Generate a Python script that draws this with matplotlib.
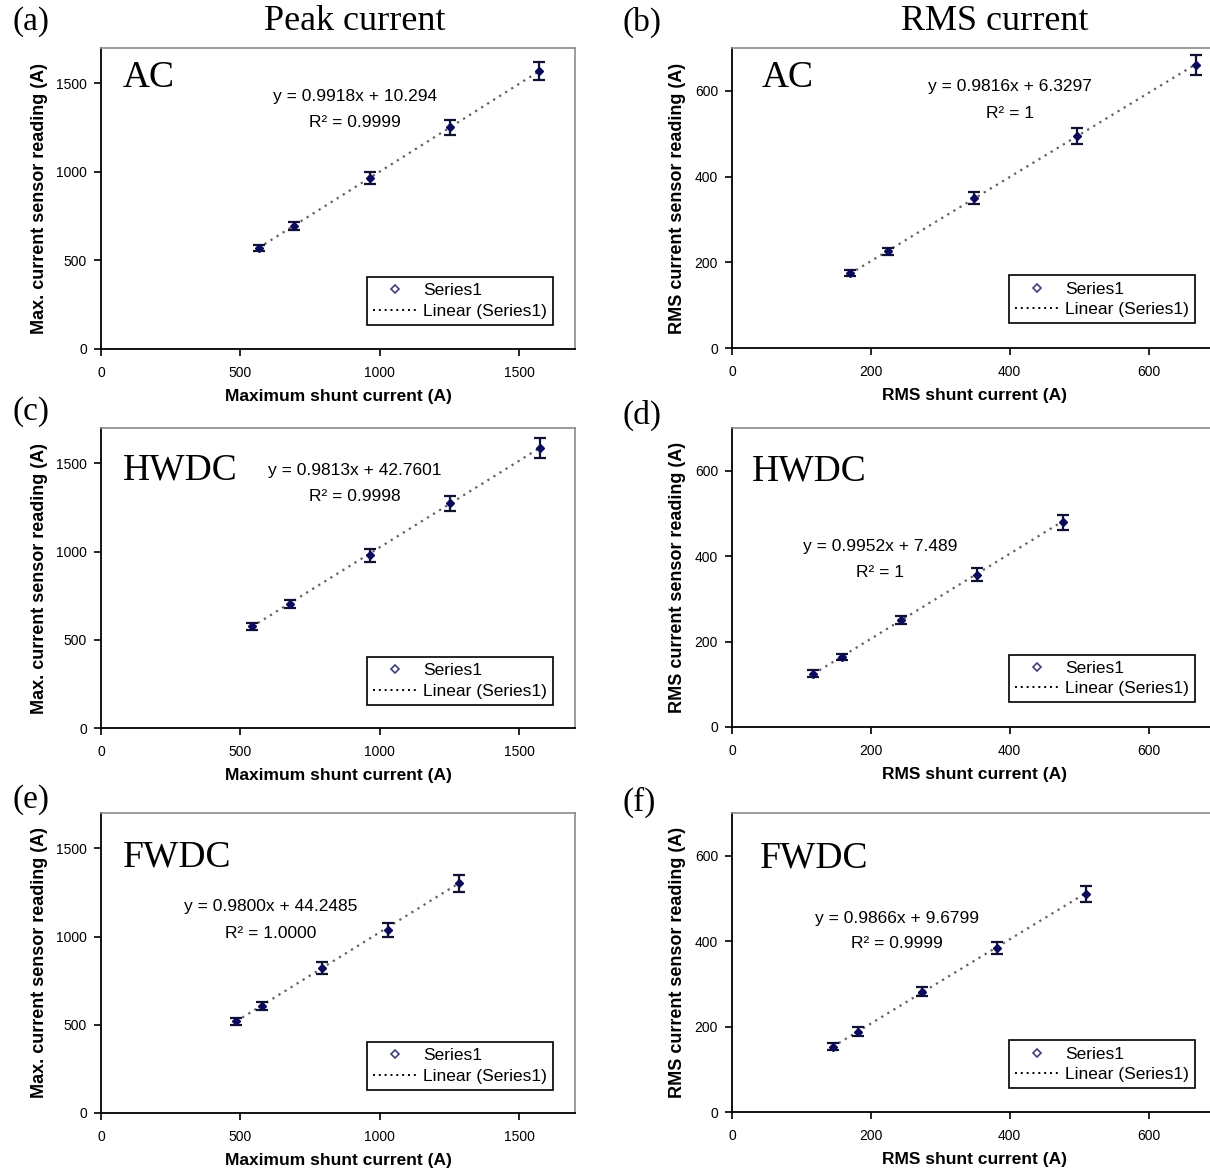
import numpy as np
import matplotlib
matplotlib.use("Agg")
import matplotlib.pyplot as plt
from matplotlib.lines import Line2D

plt.rcParams['font.family'] = ['Liberation Sans', 'DejaVu Sans']

# panel data (shunt current, sensor reading, error)
ac_pk_x = [565, 691, 966, 1251, 1572]
ac_pk_y = [570, 694, 964, 1251, 1569]
ac_pk_e = [17, 22, 33, 44, 51]

ac_rms_x = [170, 225, 349, 497, 669]
ac_rms_y = [174, 226, 349, 495, 661]
ac_rms_e = [7, 8, 14, 18, 23]

hw_pk_x = [541, 679, 963, 1251, 1575]
hw_pk_y = [577, 702, 978, 1273, 1589]
hw_pk_e = [20, 24, 36, 44, 57]

hw_rms_x = [117, 158, 244, 353, 477]
hw_rms_y = [125, 164, 250, 357, 479]
hw_rms_e = [8, 8, 10, 15, 18]

fw_pk_x = [485, 578, 793, 1030, 1285]
fw_pk_y = [519, 604, 821, 1038, 1302]
fw_pk_e = [20, 23, 35, 40, 49]

fw_rms_x = [145, 182, 274, 382, 510]
fw_rms_y = [153, 188, 282, 384, 510]
fw_rms_e = [8, 10, 10, 13, 19]

# trend line coefficients as printed on the chart
fits = [(0.9918, 10.294), (0.9816, 6.3297), (0.9813, 42.7601),
        (0.9952, 7.489), (0.9800, 44.2485), (0.9866, 9.6799)]
eq_text = ["y = 0.9918x + 10.294", "y = 0.9816x + 6.3297", "y = 0.9813x + 42.7601",
           "y = 0.9952x + 7.489", "y = 0.9800x + 44.2485", "y = 0.9866x + 9.6799"]
r2_text = ["R² = 0.9999", "R² = 1", "R² = 0.9998", "R² = 1", "R² = 1.0000", "R² = 0.9999"]
kinds = ["AC", "AC", "HWDC", "HWDC", "FWDC", "FWDC"]
letters = ["(a)", "(b)", "(c)", "(d)", "(e)", "(f)"]

data = [(ac_pk_x, ac_pk_y, ac_pk_e), (ac_rms_x, ac_rms_y, ac_rms_e),
        (hw_pk_x, hw_pk_y, hw_pk_e), (hw_rms_x, hw_rms_y, hw_rms_e),
        (fw_pk_x, fw_pk_y, fw_pk_e), (fw_rms_x, fw_rms_y, fw_rms_e)]

W, H = 1210, 1168
fig = plt.figure(figsize=(W / 100, H / 100), dpi=100)

def px_axes(l, r, t, b):
    return fig.add_axes([l / W, 1 - b / H, (r - l) / W, (b - t) / H])

boxes = [(101, 575, 48, 349), (732, 1218, 48, 348),
         (101, 575, 428, 728), (732, 1218, 428, 727),
         (101, 575, 813, 1113), (732, 1218, 813, 1112)]

# text positions in axes fraction
eq_pos = [(0.536, 0.84, 0.754), (0.572, 0.87, 0.783), (0.536, 0.86, 0.773),
          (0.305, 0.603, 0.517), (0.357, 0.69, 0.60), (0.34, 0.647, 0.563)]
kind_pos = [(0.046, 0.90), (0.06, 0.90), (0.046, 0.86), (0.041, 0.857),
            (0.046, 0.853), (0.058, 0.85)]
leg_pos = [(0.954, 0.08), (0.953, 0.083), (0.954, 0.077), (0.953, 0.083),
           (0.954, 0.077), (0.953, 0.08)]
letter_px = [(12, 22), (622, 22), (12, 412), (622, 415), (12, 800), (622, 802)]

navy = '#0a0a5a'

for i in range(6):
    ax = px_axes(*boxes[i])
    x, y, e = data[i]
    peak = (i % 2 == 0)
    m, c = fits[i]
    xs = np.array([x[0], x[-1]])
    ax.plot(xs, m * xs + c, linestyle=(0, (1, 2.2)), color='#606060', lw=1.6, zorder=2)
    ax.errorbar(x, y, yerr=e, fmt='D', color=navy, ms=4.5, mec=navy, mfc=navy,
                ecolor='#111133', elinewidth=1.6, capsize=4, capthick=1.6, zorder=3)
    if peak:
        ax.set_xlim(0, 1700)
        ax.set_ylim(0, 1700)
        ax.set_xticks([0, 500, 1000, 1500])
        ax.set_yticks([0, 500, 1000, 1500])
        ax.set_xlabel("Maximum shunt current (A)", fontsize=12.5, fontweight='bold', labelpad=7)
        ax.set_ylabel("Max. current sensor reading (A)", fontsize=13, fontweight='bold', labelpad=6)
    else:
        ax.set_xlim(0, 700)
        ax.set_ylim(0, 700)
        ax.set_xticks([0, 200, 400, 600])
        ax.set_yticks([0, 200, 400, 600])
        ax.set_xlabel("RMS shunt current (A)", fontsize=12.5, fontweight='bold', labelpad=7)
        ax.set_ylabel("RMS current sensor reading (A)", fontsize=13, fontweight='bold', labelpad=6)
    ax.tick_params(axis='both', direction='out', length=5, width=1.2, labelsize=10,
                   colors='black', top=False, right=False)
    ax.tick_params(axis='x', pad=7)
    ax.tick_params(axis='y', pad=5)
    for s in ['left', 'bottom']:
        ax.spines[s].set_color('black')
        ax.spines[s].set_linewidth(1.3)
    for s in ['top', 'right']:
        ax.spines[s].set_color('#8a8a8a')
        ax.spines[s].set_linewidth(1.2)

    ex, ey, ry = eq_pos[i]
    ax.text(ex, ey, eq_text[i], transform=ax.transAxes, ha='center', va='center', fontsize=12.5)
    ax.text(ex, ry, r2_text[i], transform=ax.transAxes, ha='center', va='center', fontsize=12.5)
    kx, ky = kind_pos[i]
    ax.text(kx, ky, kinds[i], transform=ax.transAxes, ha='left', va='center',
            fontsize=27, family='Liberation Serif')

    handles = [Line2D([], [], marker='D', ls='none', ms=4, mfc='white', mec='#404080', mew=1.2),
               Line2D([], [], ls=(0, (1, 2)), color='black', lw=1.4)]
    leg = ax.legend(handles, ["Series1", "Linear (Series1)"], loc='lower right',
                    bbox_to_anchor=leg_pos[i], bbox_transform=ax.transAxes,
                    fancybox=False, framealpha=1, edgecolor='black', fontsize=12.5,
                    handlelength=2.6, handletextpad=0.3, borderpad=0.35, labelspacing=0.3,
                    borderaxespad=0)
    leg.get_frame().set_linewidth(1.2)

    lx, ly = letter_px[i]
    fig.text(lx / W, 1 - ly / H, letters[i], ha='left', va='center', fontsize=24,
             family='Liberation Serif')

fig.text(355 / W, 1 - 22 / H, "Peak current", ha='center', va='center', fontsize=26,
         family='Liberation Serif')
fig.text(995 / W, 1 - 22 / H, "RMS current", ha='center', va='center', fontsize=26,
         family='Liberation Serif')

fig.savefig("out.png", dpi=100)
